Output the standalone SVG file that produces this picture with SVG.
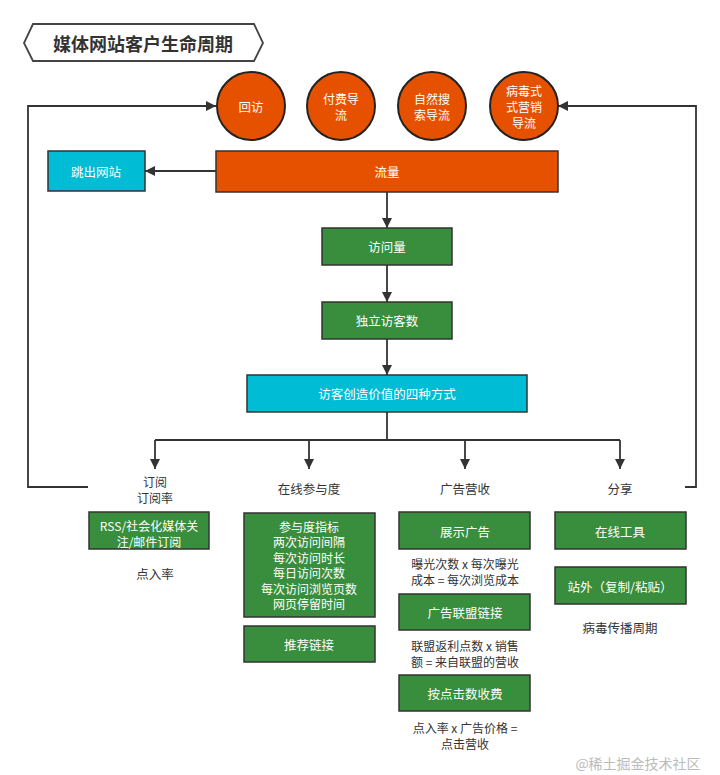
<svg xmlns="http://www.w3.org/2000/svg" width="720" height="775" viewBox="0 0 720 775">
<defs>
<style>
text{font-family:"Noto Sans CJK SC","Liberation Sans",sans-serif;text-anchor:middle;dominant-baseline:central}
.w{fill:#fff;font-size:12.5px}
.d{fill:#333;font-size:12.5px}
.m{font-size:12px}
.circ{fill:#E65100;stroke:#222;stroke-width:2}
.or{fill:#E65100;stroke:#333;stroke-width:1.5}
.gr{fill:#388E3C;stroke:#333;stroke-width:1.5}
.cy{fill:#00BCD4;stroke:#333;stroke-width:1.5}
.ln{fill:none;stroke:#333;stroke-width:1.8}
</style>
<marker id="ah" viewBox="0 0 10 10" refX="10" refY="5" markerWidth="10" markerHeight="10" markerUnits="userSpaceOnUse" orient="auto-start-reverse">
<path d="M0,0 L10,5 L0,10 z" fill="#333"/>
</marker>
</defs>
<rect width="720" height="775" fill="#fff"/>

<g id="title">
<polygon points="33,24 254,24 263,43 254,61 33,61 24,43" fill="#fff" stroke="#444" stroke-width="1.8"/>
<text x="143" y="43" style="font-size:18px;font-weight:bold;fill:#333">媒体网站客户生命周期</text>
</g>

<g id="connectors">
<path class="ln" d="M88,487 H28 V106 H216" marker-end="url(#ah)"/>
<path class="ln" d="M685,487 H696 V106 H558" marker-end="url(#ah)"/>
<path class="ln" d="M216,171 H145" marker-end="url(#ah)"/>
<path class="ln" d="M387,192 V228" marker-end="url(#ah)"/>
<path class="ln" d="M387,265 V302" marker-end="url(#ah)"/>
<path class="ln" d="M387,339 V375" marker-end="url(#ah)"/>
<path class="ln" d="M387,412 V440"/>
<path class="ln" d="M155,440 H620"/>
<path class="ln" d="M155,440 V469" marker-end="url(#ah)"/>
<path class="ln" d="M309,440 V469" marker-end="url(#ah)"/>
<path class="ln" d="M465,440 V469" marker-end="url(#ah)"/>
<path class="ln" d="M620,440 V469" marker-end="url(#ah)"/>
</g>

<g id="n-huifang"><circle class="circ" cx="251" cy="106" r="34"/><text class="w" x="251" y="106">回访</text></g>
<g id="n-fufei"><circle class="circ" cx="341" cy="106" r="34"/><text class="w m" x="341" y="98">付费导</text><text class="w m" x="341" y="114">流</text></g>
<g id="n-ziran"><circle class="circ" cx="432" cy="106" r="34"/><text class="w m" x="432" y="98">自然搜</text><text class="w m" x="432" y="114">索导流</text></g>
<g id="n-bingdu"><circle class="circ" cx="524" cy="106" r="34"/><text class="w m" x="524" y="90">病毒式</text><text class="w m" x="524" y="106">式营销</text><text class="w m" x="524" y="122">导流</text></g>

<g id="n-liuliang"><rect class="or" x="216" y="151" width="342" height="41"/><text class="w" x="387" y="171">流量</text></g>
<g id="n-tiaochu"><rect class="cy" x="48" y="151" width="97" height="40"/><text class="w" x="96" y="171">跳出网站</text></g>
<g id="n-fangwen"><rect class="gr" x="322" y="228" width="130" height="37"/><text class="w" x="387" y="246">访问量</text></g>
<g id="n-duli"><rect class="gr" x="322" y="302" width="130" height="37"/><text class="w" x="387" y="320">独立访客数</text></g>
<g id="n-sizhong"><rect class="cy" x="247" y="375" width="280" height="37"/><text class="w" x="387" y="393">访客创造价值的四种方式</text></g>

<g id="n-dingyue"><text class="d m" x="155" y="481">订阅</text><text class="d m" x="155" y="497">订阅率</text></g>
<g id="n-canyu"><text class="d" x="309" y="488">在线参与度</text></g>
<g id="n-guanggao"><text class="d" x="465" y="488">广告营收</text></g>
<g id="n-fenxiang"><text class="d" x="620" y="488">分享</text></g>

<g id="n-rss"><rect class="gr" x="89" y="512" width="120" height="37"/><text class="w m" x="149" y="525">RSS/社会化媒体关</text><text class="w m" x="149" y="541">注/邮件订阅</text></g>
<g id="n-dianru"><text class="d" x="155" y="573">点入率</text></g>

<g id="n-zhibiao"><rect class="gr" x="244" y="513" width="131" height="104"/>
<text class="w m" x="309" y="526">参与度指标</text>
<text class="w m" x="309" y="541.5">两次访问间隔</text>
<text class="w m" x="309" y="557">每次访问时长</text>
<text class="w m" x="309" y="572.5">每日访问次数</text>
<text class="w m" x="309" y="588">每次访问浏览页数</text>
<text class="w m" x="309" y="603.5">网页停留时间</text></g>
<g id="n-tuijian"><rect class="gr" x="244" y="626" width="131" height="36"/><text class="w" x="309" y="644">推荐链接</text></g>

<g id="n-zhanshi"><rect class="gr" x="399" y="512" width="131" height="37"/><text class="w" x="465" y="531">展示广告</text></g>
<g id="t-baoguang"><text class="d m" x="465" y="563">曝光次数 x 每次曝光</text><text class="d m" x="465" y="579">成本 = 每次浏览成本</text></g>
<g id="n-lianmeng"><rect class="gr" x="399" y="594" width="131" height="36"/><text class="w" x="465" y="612">广告联盟链接</text></g>
<g id="t-lianmeng"><text class="d m" x="465" y="645">联盟返利点数 x 销售</text><text class="d m" x="465" y="661">额 = 来自联盟的营收</text></g>
<g id="n-dianji"><rect class="gr" x="399" y="675" width="131" height="36"/><text class="w" x="465" y="693">按点击数收费</text></g>
<g id="t-dianji"><text class="d m" x="465" y="727">点入率 x 广告价格 =</text><text class="d m" x="465" y="743">点击营收</text></g>

<g id="n-zaixian"><rect class="gr" x="555" y="512" width="131" height="37"/><text class="w" x="620" y="531">在线工具</text></g>
<g id="n-zhanwai"><rect class="gr" x="555" y="567" width="131" height="37"/><text class="w" x="620" y="586">站外（复制/粘贴）</text></g>
<g id="t-bingdu"><text class="d" x="620" y="627">病毒传播周期</text></g>

<text x="638" y="763" style="font-size:14px;fill:#bbb">@稀土掘金技术社区</text>
</svg>
